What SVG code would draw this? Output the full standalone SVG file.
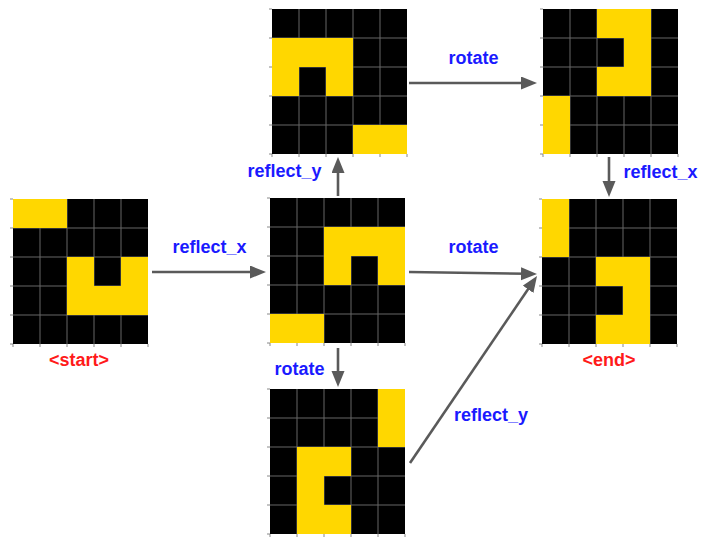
<svg xmlns="http://www.w3.org/2000/svg" xmlns:xlink="http://www.w3.org/1999/xlink" width="717" height="537" viewBox="0 0 717 537">
<style>
.bg{fill:#000}
.y{fill:#FFD700}
.gl{fill:none;stroke:#666;stroke-width:1}
.tk{fill:none;stroke:#888;stroke-width:1}
.lbl{font-family:"Liberation Sans",Arial,sans-serif;font-weight:bold;font-size:18px;fill:#1a1aff;text-anchor:middle}
.red{font-family:"Liberation Sans",Arial,sans-serif;font-weight:bold;font-size:18px;fill:#ff1a1a;text-anchor:middle}
.arr{stroke:#5a5a5a;stroke-width:2.6;fill:none;marker-end:url(#ah)}
</style>
<defs>
<marker id="ah" markerUnits="userSpaceOnUse" markerWidth="17" markerHeight="14" refX="6" refY="6.5" orient="auto">
<path d="M0,0 L16,6.5 L0,13 z" fill="#5a5a5a"/>
</marker>
<g id="lines">
<path class="gl" d="M27,0V145M54,0V145M81,0V145M108,0V145M0,29H135M0,58H135M0,87H135M0,116H135"/>
<path class="tk" d="M-3,0H0M-3,29H0M-3,58H0M-3,87H0M-3,116H0M-3,145H0M0,145V148M27,145V148M54,145V148M81,145V148M108,145V148M135,145V148"/>
</g>
</defs>

<g id="start" transform="translate(13,199)">
<rect class="bg" width="135" height="145"/>
<use xlink:href="#lines"/>
<rect class="y" x="0" y="0" width="54" height="29"/>
<rect class="y" x="54" y="58" width="27" height="58"/>
<rect class="y" x="81" y="87" width="27" height="29"/>
<rect class="y" x="108" y="58" width="27" height="58"/>
<text class="red" x="66" y="167">&lt;start&gt;</text>
</g>

<g id="top-middle" transform="translate(272,9)">
<rect class="bg" width="135" height="145"/>
<use xlink:href="#lines"/>
<rect class="y" x="0" y="29" width="81" height="29"/>
<rect class="y" x="0" y="58" width="27" height="29"/>
<rect class="y" x="54" y="58" width="27" height="29"/>
<rect class="y" x="81" y="116" width="54" height="29"/>
</g>

<g id="center" transform="translate(270,198)">
<rect class="bg" width="135" height="145"/>
<use xlink:href="#lines"/>
<rect class="y" x="54" y="29" width="81" height="29"/>
<rect class="y" x="54" y="58" width="27" height="29"/>
<rect class="y" x="108" y="58" width="27" height="29"/>
<rect class="y" x="0" y="116" width="54" height="29"/>
</g>

<g id="bottom" transform="translate(270,389)">
<rect class="bg" width="135" height="145"/>
<use xlink:href="#lines"/>
<rect class="y" x="108" y="0" width="27" height="58"/>
<rect class="y" x="27" y="58" width="54" height="29"/>
<rect class="y" x="27" y="87" width="27" height="29"/>
<rect class="y" x="27" y="116" width="54" height="29"/>
</g>

<g id="top-right" transform="translate(543,9)">
<rect class="bg" width="135" height="145"/>
<use xlink:href="#lines"/>
<rect class="y" x="54" y="0" width="54" height="29"/>
<rect class="y" x="81" y="29" width="27" height="29"/>
<rect class="y" x="54" y="58" width="54" height="29"/>
<rect class="y" x="0" y="87" width="27" height="58"/>
</g>

<g id="end" transform="translate(542,199)">
<rect class="bg" width="135" height="145"/>
<use xlink:href="#lines"/>
<rect class="y" x="0" y="0" width="27" height="58"/>
<rect class="y" x="54" y="58" width="54" height="29"/>
<rect class="y" x="81" y="87" width="27" height="29"/>
<rect class="y" x="54" y="116" width="54" height="29"/>
<text class="red" x="67" y="167">&lt;end&gt;</text>
</g>

<g id="connectors">
<line class="arr" x1="152" y1="272" x2="256" y2="272"/>
<line class="arr" x1="338" y1="196" x2="338" y2="167"/>
<line class="arr" x1="409" y1="83" x2="527" y2="83"/>
<line class="arr" x1="409" y1="272" x2="527" y2="273.8"/>
<line class="arr" x1="410" y1="463" x2="531.4" y2="284.3"/>
<line class="arr" x1="609" y1="157" x2="609" y2="187"/>
<line class="arr" x1="338" y1="348" x2="338" y2="377"/>
<text class="lbl" x="209.5" y="253">reflect_x</text>
<text class="lbl" x="284.5" y="177">reflect_y</text>
<text class="lbl" x="473.5" y="64">rotate</text>
<text class="lbl" x="473.5" y="253">rotate</text>
<text class="lbl" x="491" y="421">reflect_y</text>
<text class="lbl" x="660.5" y="178">reflect_x</text>
<text class="lbl" x="299.5" y="375">rotate</text>
</g>
</svg>
